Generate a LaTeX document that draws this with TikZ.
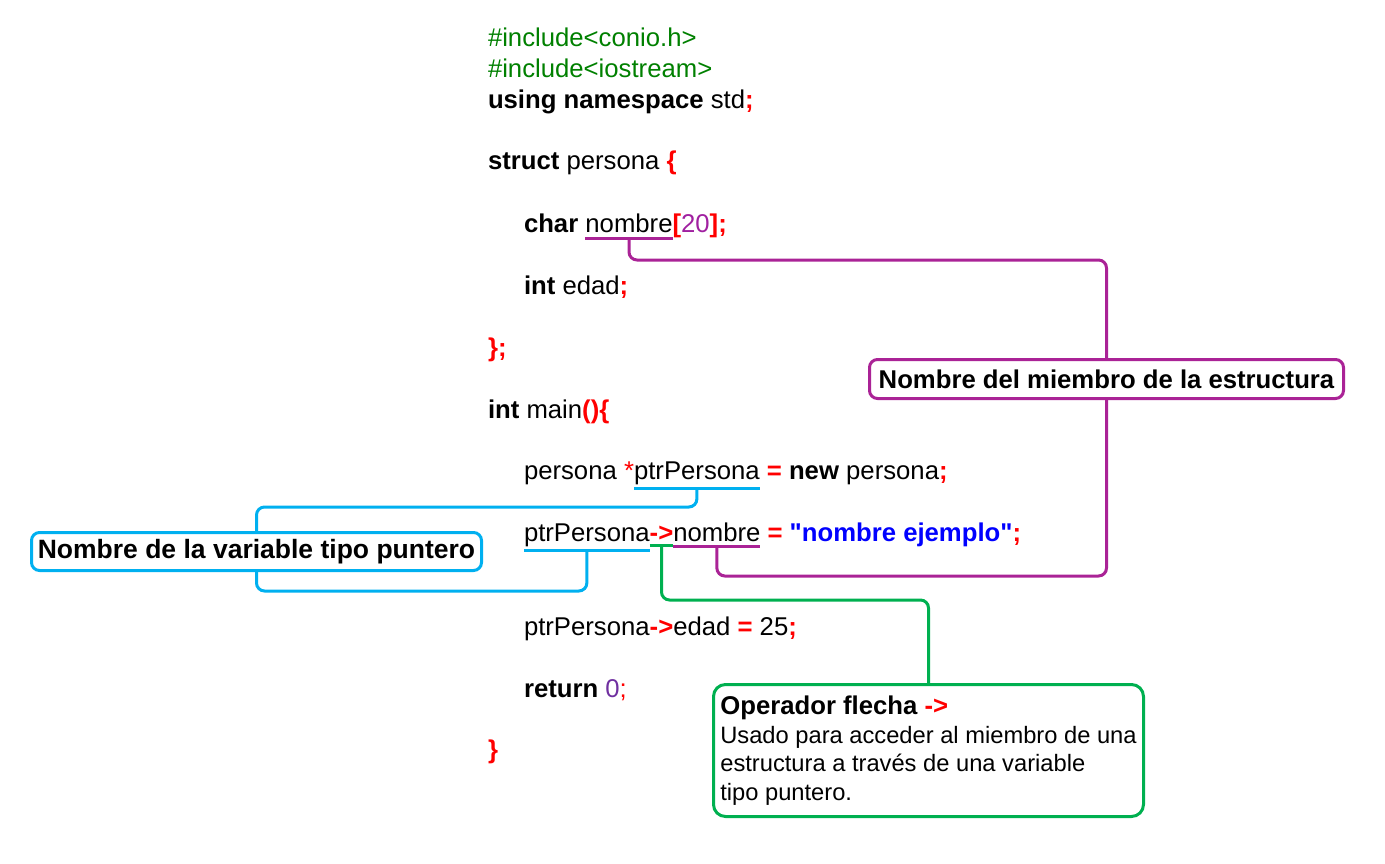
\documentclass[tikz,border=0pt]{standalone}
\usepackage{fontspec}
\setmainfont{Liberation Sans}
\usepackage{tikz}
\usetikzlibrary{positioning}

\definecolor{incgreen}{RGB}{0,128,0}
\definecolor{opred}{RGB}{255,0,0}
\definecolor{numpurple}{RGB}{160,32,160}
\definecolor{zeroviolet}{RGB}{112,48,160}
\definecolor{strblue}{RGB}{0,0,255}
\definecolor{memcol}{RGB}{170,35,150}
\definecolor{varcol}{RGB}{0,176,240}
\definecolor{arrcol}{RGB}{0,176,80}

\newcommand{\kw}[1]{\textbf{#1}}
\newcommand{\op}[1]{\textcolor{opred}{\textbf{#1}}}
\newcommand{\codefont}{\fontsize{25.7}{30}\selectfont}

\begin{document}
\begin{tikzpicture}[x=1pt,y=-1pt,
  code/.style={anchor=base west,inner sep=0pt,outer sep=0pt,font=\codefont},
  lbl/.style={draw,line width=3pt,rounded corners=8pt,fill=white,inner sep=2pt,font=\codefont\bfseries},
  memline/.style={draw=memcol,line width=3pt,rounded corners=8pt},
  varline/.style={draw=varcol,line width=3pt,rounded corners=8pt},
  arrline/.style={draw=arrcol,line width=3pt,rounded corners=8pt}]
     \useasboundingbox (0,0) rectangle (1385,864);
      % the code
      \node[code,incgreen] (inc1) at (488,47) {\#include<conio.h>};
      \node[code,incgreen] (inc2) at (488,78) {\#include<iostream>};
      \node[code] (usens) at (488,109) {\kw{using namespace} std\op{;}};
      \node[code] (strct) at (488,170) {\kw{struct} persona \op{\{}};
      \node[code] (chr) at (524,232) {\kw{char}\kern.278em};
      \node[code] (nom1) at (chr.base east) {nombre};
      \node[code] (dim) at (nom1.base east) {\op{[}\textcolor{numpurple}{20}\op{];}};
      \node[code] (edad) at (524,294) {\kw{int} edad\op{;}};
      \node[code] (fin1) at (488,356) {\op{\};}};
      \node[code] (mainf) at (488,418) {\kw{int} main\op{()\{}};
      \node[code] (pers) at (524,479) {persona \textcolor{opred}{*}};
      \node[code] (ptr1) at (pers.base east) {ptrPersona};
      \node[code] (newp) at (ptr1.base east) {\kern.278em\op{=} \kw{new} persona\op{;}};
      \node[code] (ptr2) at (524,541) {ptrPersona};
      \node[code] (arr1) at (ptr2.base east) {\op{->}};
      \node[code] (nom2) at (arr1.base east) {nombre};
      \node[code] (asig) at (nom2.base east) {\kern.278em\op{=} \textcolor{strblue}{\textbf{\textquotedbl nombre ejemplo\textquotedbl}}\op{;}};
      \node[code] (ptr3) at (524,635) {ptrPersona\op{->}edad \op{=} 25\op{;}};
      \node[code] (ret) at (524,697) {\kw{return} \textcolor{zeroviolet}{0}\textcolor{opred}{;}};
      \node[code] (fin2) at (488,758) {\op{\}}};

      % the labels
      \node[lbl,draw=memcol,minimum width=474,minimum height=39] (memlbl) at (1106.5,379) {Nombre del miembro de la estructura};
      \node[lbl,draw=varcol,minimum width=450,minimum height=38,font=\fontsize{26.5}{30}\selectfont\bfseries] (varlbl) at (256.5,551.5) {Nombre de la variable tipo puntero};
      \node[lbl,draw=arrcol,rounded corners=12pt,minimum width=430,minimum height=132,align=left,font=\fontsize{23.7}{28.7}\selectfont] (arrlbl) at (928.5,750.5)
        {{\fontsize{25.7}{28.7}\selectfont\bfseries Operador flecha \op{->}}\\Usado para acceder al miembro de una\\estructura a través de una variable\\tipo puntero.};

      % underlines
      \draw[memline] ([yshift=-6pt]nom1.base west) -- ([yshift=-6pt]nom1.base east);
      \coordinate (nom1u) at ([yshift=-6pt]nom1.base);
      \draw[varline] ([yshift=-9pt]ptr1.base west) -- ([yshift=-9pt]ptr1.base east);
      \coordinate (ptr1u) at ([yshift=-9pt]ptr1.base);
      \draw[varline] ([yshift=-9pt]ptr2.base west) -- ([yshift=-9pt]ptr2.base east);
      \coordinate (ptr2u) at ([yshift=-9pt]ptr2.base);
      \draw[arrline] ([yshift=-4pt]arr1.base west) -- ([yshift=-4pt]arr1.base east);
      \coordinate (arru) at ([yshift=-4pt]arr1.base);
      \draw[memline] ([yshift=-5pt]nom2.base west) -- ([yshift=-5pt]nom2.base east);
      \coordinate (nom2u) at ([yshift=-5pt]nom2.base);

      % connectors
      \draw[memline] (nom1u) -- ++(0,22) -| (memlbl.north);
      \draw[memline] (nom2u) -- ++(0,30) -| (memlbl.south);
      \draw[varline] (ptr1u) -- ++(0,19) -| (varlbl.north);
      \draw[varline] (ptr2u) -- ++(0,41) -| (varlbl.south);
      \draw[arrline] (arru) -- ++(0,55) -| (arrlbl.north);
      %\draw[help lines] (0,0) grid[step=50] (1385,864);
\end{tikzpicture}
\end{document}
